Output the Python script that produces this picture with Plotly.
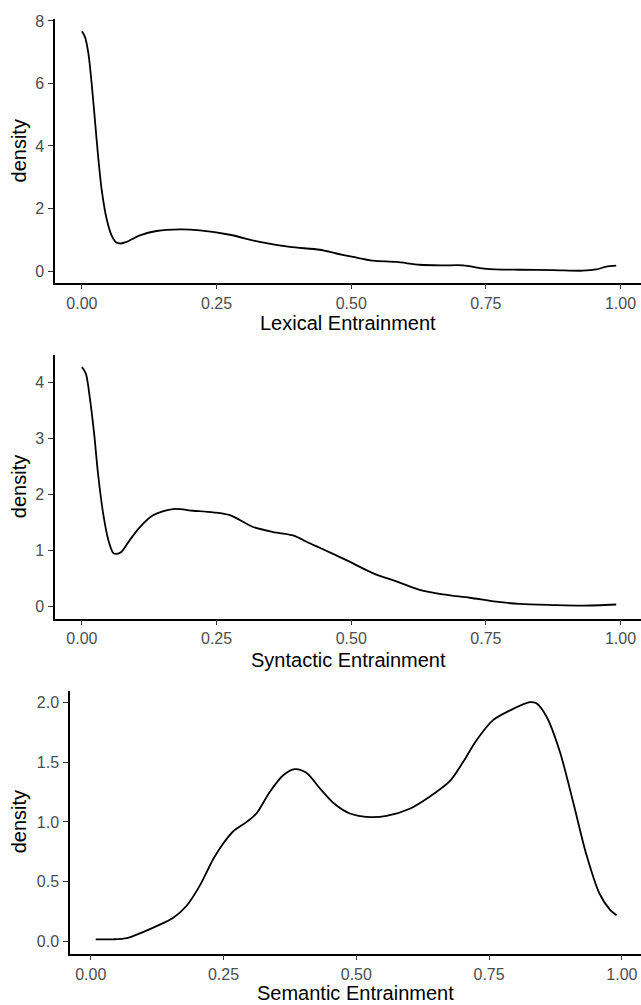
import plotly.graph_objects as go

# ---------------- data ----------------
lex_x = [0.0, 0.0056, 0.012, 0.018, 0.024, 0.030, 0.0365, 0.0458, 0.055, 0.064, 0.0718,
         0.083, 0.1076, 0.1386, 0.182, 0.219, 0.2746, 0.33, 0.386, 0.4416, 0.4725,
         0.5034, 0.540, 0.584, 0.627, 0.670, 0.7075, 0.751, 0.8126, 0.8744, 0.930,
         0.955, 0.9734, 0.992]
lex_y = [7.67, 7.49, 6.96, 6.01, 4.85, 3.68, 2.62, 1.67, 1.14, 0.91, 0.88,
         0.93, 1.14, 1.28, 1.33, 1.30, 1.16, 0.93, 0.77, 0.68, 0.56,
         0.45, 0.33, 0.29, 0.20, 0.18, 0.18, 0.07, 0.04, 0.03, 0.01,
         0.05, 0.14, 0.17]

syn_x = [0.0, 0.0074, 0.0148, 0.0229, 0.030, 0.0396, 0.049, 0.058, 0.064, 0.0736,
         0.089, 0.1076, 0.132, 0.169, 0.2065, 0.2436, 0.2746, 0.318, 0.355, 0.392,
         0.423, 0.4416, 0.491, 0.540, 0.590, 0.627, 0.670, 0.72, 0.769, 0.8126,
         0.8744, 0.930, 0.992]
syn_y = [4.27, 4.15, 3.71, 3.06, 2.36, 1.65, 1.19, 0.96, 0.94, 0.98,
         1.19, 1.42, 1.63, 1.74, 1.71, 1.68, 1.63, 1.42, 1.33, 1.27,
         1.13, 1.05, 0.83, 0.60, 0.43, 0.30, 0.22, 0.16, 0.09, 0.05,
         0.03, 0.02, 0.04]

sem_x = [0.0094, 0.0425, 0.068, 0.0928, 0.124, 0.1554, 0.1806, 0.2056, 0.2307, 0.2495,
         0.268, 0.2935, 0.312, 0.337, 0.3624, 0.3844, 0.406, 0.4314, 0.4565, 0.488,
         0.5255, 0.557, 0.6007, 0.638, 0.676, 0.701, 0.726, 0.7575, 0.789, 0.8265,
         0.839, 0.858, 0.883, 0.908, 0.933, 0.958, 0.977, 0.99]
sem_y = [0.02, 0.02, 0.03, 0.07, 0.13, 0.20, 0.30, 0.47, 0.69, 0.82,
         0.92, 1.00, 1.07, 1.25, 1.39, 1.44, 1.41, 1.28, 1.16, 1.07,
         1.04, 1.05, 1.11, 1.21, 1.34, 1.50, 1.68, 1.85, 1.93, 2.00,
         1.99, 1.88, 1.59, 1.17, 0.73, 0.40, 0.27, 0.22]

x_titles = ["Lexical Entrainment", "Syntactic Entrainment", "Semantic Entrainment"]
y_title = "density"
x_tickvals = [0.0, 0.25, 0.5, 0.75, 1.0]
x_ticktext = ["0.00", "0.25", "0.50", "0.75", "1.00"]
y_tickvals = [[0, 2, 4, 6, 8], [0, 1, 2, 3, 4], [0.0, 0.5, 1.0, 1.5, 2.0]]
y_ticktext = [["0", "2", "4", "6", "8"], ["0", "1", "2", "3", "4"],
              ["0.0", "0.5", "1.0", "1.5", "2.0"]]

# ---------------- layout geometry ----------------
W, H = 641, 1005
def py(p):
    return 1 - p / H

panels = [
    dict(x=lex_x, y=lex_y, xdom=[55 / W, 1.0], ydom=[py(277.5), py(12.5)],
         xr=[-0.05, 1.038], yr=[-0.37, 8.05], title_y=318, mid_y=145),
    dict(x=syn_x, y=syn_y, xdom=[55 / W, 1.0], ydom=[py(615.8), py(350.7)],
         xr=[-0.05, 1.038], yr=[-0.21, 4.48], title_y=657.5, mid_y=483),
    dict(x=sem_x, y=sem_y, xdom=[70 / W, 1.0], ydom=[py(953.3), py(688.3)],
         xr=[-0.039, 1.036], yr=[-0.10, 2.097], title_y=993, mid_y=820.5),
]

FONT = "Liberation Sans, Arial, Helvetica, sans-serif"
fig = go.Figure()
annotations = []
for i, p in enumerate(panels):
    n = "" if i == 0 else str(i + 1)
    fig.add_trace(go.Scatter(
        x=p["x"], y=p["y"], mode="lines",
        line=dict(color="black", width=1.8, shape="spline", smoothing=0.8),
        xaxis="x" + n, yaxis="y" + n, showlegend=False, hoverinfo="skip"))
    axis_common = dict(showgrid=False, zeroline=False, showline=True,
                       linecolor="black", linewidth=1.5, ticks="outside",
                       ticklen=5, tickwidth=1.3, tickcolor="#333333",
                       tickfont=dict(family=FONT, size=16, color="#4D4D4D"))
    fig.update_layout(**{
        "xaxis" + n: dict(domain=p["xdom"], range=p["xr"], anchor="y" + n,
                          tickvals=x_tickvals, ticktext=x_ticktext,
                          ticklabelstandoff=0, **axis_common),
        "yaxis" + n: dict(domain=p["ydom"], range=p["yr"], anchor="x" + n,
                          tickvals=y_tickvals[i], ticktext=y_ticktext[i],
                          ticklabelstandoff=1, **axis_common),
    })
    x_center = (p["xdom"][0] + p["xdom"][1]) / 2
    annotations.append(dict(text=x_titles[i], x=x_center, y=py(p["title_y"]),
                            xref="paper", yref="paper", xanchor="center", yanchor="middle",
                            showarrow=False, font=dict(family=FONT, size=20, color="black")))
    annotations.append(dict(text=y_title, x=18.5 / W, y=py(p["mid_y"]),
                            xref="paper", yref="paper", xanchor="center", yanchor="middle",
                            textangle=-90, showarrow=False,
                            font=dict(family=FONT, size=20, color="black")))

fig.update_layout(width=W, height=H, margin=dict(l=0, r=0, t=0, b=0),
                  paper_bgcolor="white", plot_bgcolor="white",
                  annotations=annotations, showlegend=False)
fig.write_html("out.html")
